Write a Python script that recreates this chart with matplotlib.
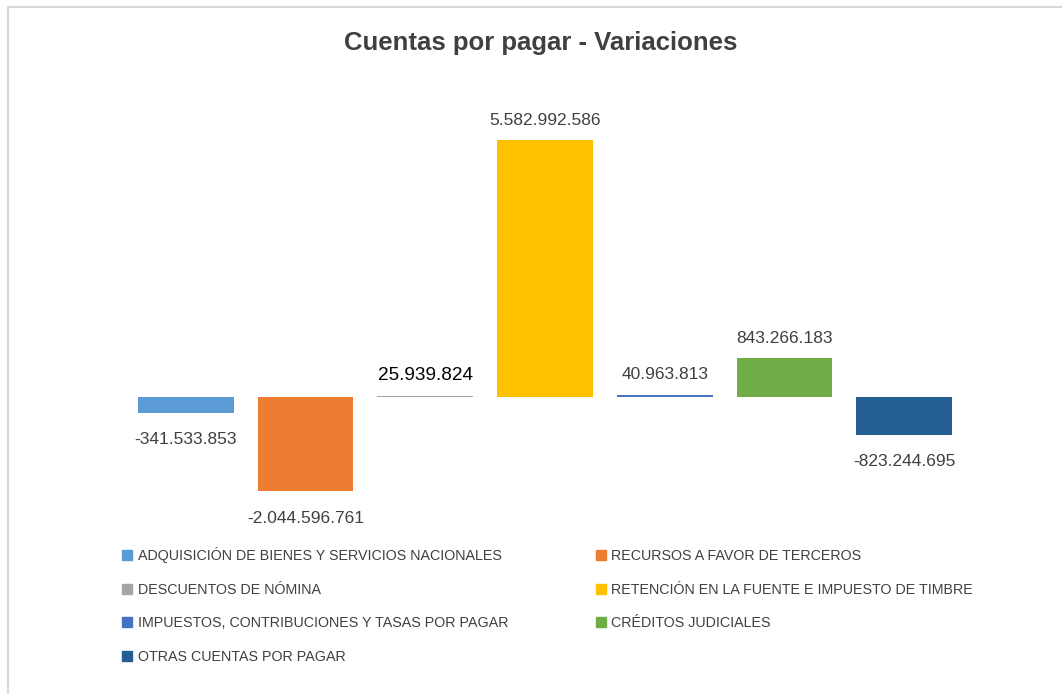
import matplotlib.pyplot as plt
from matplotlib.patches import Rectangle, Patch

categorias = [
    'ADQUISICIÓN DE BIENES Y SERVICIOS NACIONALES',
    'RECURSOS A FAVOR DE TERCEROS',
    'DESCUENTOS DE NÓMINA',
    'RETENCIÓN EN LA FUENTE E IMPUESTO DE TIMBRE',
    'IMPUESTOS, CONTRIBUCIONES Y TASAS POR PAGAR',
    'CRÉDITOS JUDICIALES',
    'OTRAS CUENTAS POR PAGAR',
]
variaciones = [-341533853, -2044596761, 25939824, 5582992586, 40963813, 843266183, -823244695]
colores = ['#5B9BD5', '#ED7D31', '#A5A5A5', '#FFC000', '#4472C4', '#70AD47', '#255E91']

plt.rcParams['font.family'] = ['Liberation Sans', 'DejaVu Sans']

fig = plt.figure(figsize=(10.62, 6.94), dpi=100)
W, H = 1062, 694
ax = fig.add_axes([126 / W, (H - 512) / H, 838 / W, (512 - 121) / H])

x = range(len(variaciones))
ax.bar(x, variaciones, width=0.8, color=colores)
ax.set_xlim(-0.5, 6.5)
ax.set_ylim(-2.5e9, 6.0e9)
ax.axis('off')


def fmt(v):
    return f'{v:,}'.replace(',', '.')


for i, v in enumerate(variaciones):
    if v >= 0:
        off = 14.5
    else:
        off = -19.5
    size, col = 12.5, '#404040'
    if i == 2:
        size, col = 13.7, '#000000'
    ax.annotate(fmt(v), (i, v), xytext=(0, off), textcoords='offset points',
                ha='center', va='center', fontsize=size, color=col)

fig.text(541 / W, 1 - 43 / H, 'Cuentas por pagar - Variaciones', ha='center', va='center',
         fontsize=18.5, fontweight='bold', color='#404040')

# legend, row-wise order
orden = [0, 2, 4, 6, 1, 3, 5]
handles = [Patch(color=colores[i]) for i in orden]
labels = [categorias[i] for i in orden]
fig.legend(handles, labels, ncol=2, loc='upper left', bbox_to_anchor=(122 / W, 1 - 547 / H),
           frameon=False, fontsize=10.3, labelcolor='#404040', handlelength=0.7, handleheight=0.7,
           handletextpad=0.4, columnspacing=6.1, labelspacing=1.37, borderpad=0, borderaxespad=0)

fig.add_artist(Rectangle((8 / W, -0.1), 1.2, (H - 7) / H + 0.1, transform=fig.transFigure,
                         fill=False, edgecolor='#D9D9D9', linewidth=1.5))

fig.savefig('out.png', dpi=100)
